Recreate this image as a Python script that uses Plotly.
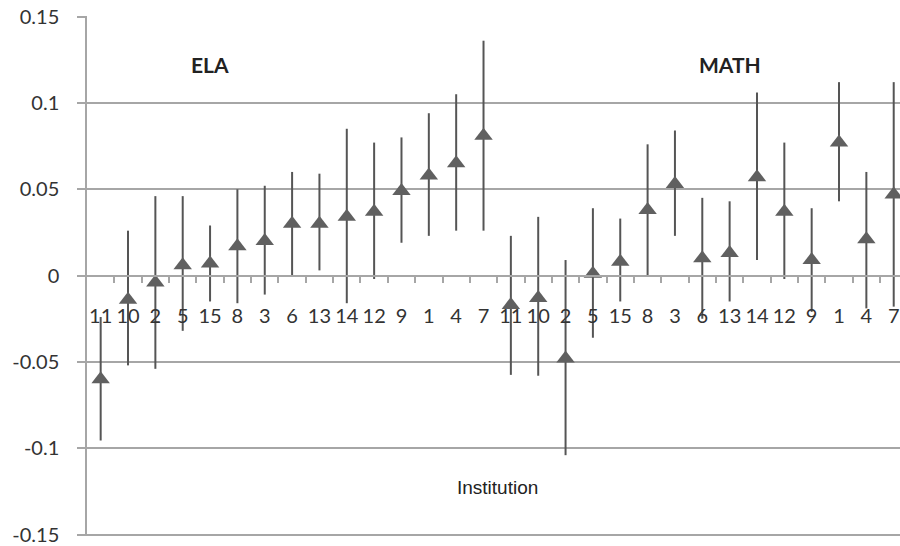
import plotly.graph_objects as go

institutions = ["11", "10", "2", "5", "15", "8", "3", "6", "13", "14", "12", "9", "1", "4", "7"]

ela_est = [-0.060, -0.014, -0.004, 0.006, 0.007, 0.017, 0.020, 0.030, 0.030, 0.034, 0.037, 0.049, 0.058, 0.065, 0.081]
ela_low = [-0.0955, -0.052, -0.054, -0.032, -0.015, -0.016, -0.011, 0.000, 0.003, -0.016, -0.002, 0.019, 0.023, 0.026, 0.026]
ela_high = [-0.024, 0.026, 0.046, 0.046, 0.029, 0.050, 0.052, 0.060, 0.059, 0.085, 0.077, 0.080, 0.094, 0.105, 0.136]

math_est = [-0.017, -0.013, -0.048, 0.001, 0.008, 0.038, 0.053, 0.010, 0.013, 0.057, 0.037, 0.009, 0.077, 0.021, 0.047]
math_low = [-0.0575, -0.058, -0.104, -0.036, -0.015, 0.000, 0.023, -0.025, -0.015, 0.009, -0.002, -0.021, 0.043, -0.019, -0.018]
math_high = [0.023, 0.034, 0.009, 0.039, 0.033, 0.076, 0.084, 0.045, 0.043, 0.106, 0.077, 0.039, 0.112, 0.060, 0.112]

y_tick_vals = [0.15, 0.1, 0.05, 0, -0.05, -0.1, -0.15]
y_tick_text = ["0.15", "0.1", "0.05", "0", "-0.05", "-0.1", "-0.15"]

est = ela_est + math_est
low = ela_low + math_low
high = ela_high + math_high
labels = institutions + institutions
xs = list(range(len(est)))

err_plus = [h - e for h, e in zip(high, est)]
err_minus = [e - l for e, l in zip(est, low)]

GRID = "#a6a6a6"
MARK = "#606060"
CAL = "Lato, 'Open Sans', sans-serif"

fig = go.Figure()
fig.add_trace(go.Scatter(
    x=xs, y=est, mode="markers",
    marker=dict(symbol="triangle-up", size=16, color=MARK),
    error_y=dict(type="data", symmetric=False, array=err_plus, arrayminus=err_minus,
                 color="#555555", thickness=2, width=0),
    showlegend=False, cliponaxis=False,
))

n = len(est)
fig.update_layout(
    width=900, height=546,
    margin=dict(l=87, r=0, t=16, b=10),
    paper_bgcolor="white", plot_bgcolor="white",
    xaxis=dict(
        range=[-0.5, 29.23],
        anchor="free", position=0.5, automargin=False,
        tickmode="array", tickvals=xs, ticktext=labels,
        ticks="", showgrid=False, zeroline=False,
        showline=True, linecolor=GRID, linewidth=1.5,
        tickfont=dict(family=CAL, size=20, color="#333333"),
        ticklabelstandoff=22,
        minor=dict(tickvals=[i + 0.5 for i in range(n)], ticks="outside",
                   ticklen=6, tickcolor=GRID, tickwidth=1.5, showgrid=False),
    ),
    yaxis=dict(
        range=[-0.1508, 0.1503], automargin=False,
        tickmode="array", tickvals=y_tick_vals, ticktext=y_tick_text,
        showgrid=True, gridcolor=GRID, gridwidth=1.5,
        zeroline=False, showline=True, linecolor=GRID, linewidth=1.5,
        ticks="outside", ticklen=8, tickcolor=GRID, tickwidth=1.5,
        tickfont=dict(family=CAL, size=20, color="#333333"),
        ticklabelstandoff=14,
    ),
    annotations=[
        dict(x=4.0, y=0.122, xref="x", yref="y", text="<b>ELA</b>", showarrow=False,
             font=dict(family=CAL, size=21, color="#222222")),
        dict(x=23.0, y=0.122, xref="x", yref="y", text="<b>MATH</b>", showarrow=False,
             font=dict(family=CAL, size=21, color="#222222")),
        dict(x=14.5, y=-0.123, xref="x", yref="y", text="Institution", showarrow=False,
             font=dict(family="Liberation Sans, Arial, sans-serif", size=19, color="#222222")),
    ],
)

fig.write_html(
    "out.html",
    config={"displayModeBar": False},
    post_script="document.body.style.margin='0';document.body.style.overflow='hidden';",
)
